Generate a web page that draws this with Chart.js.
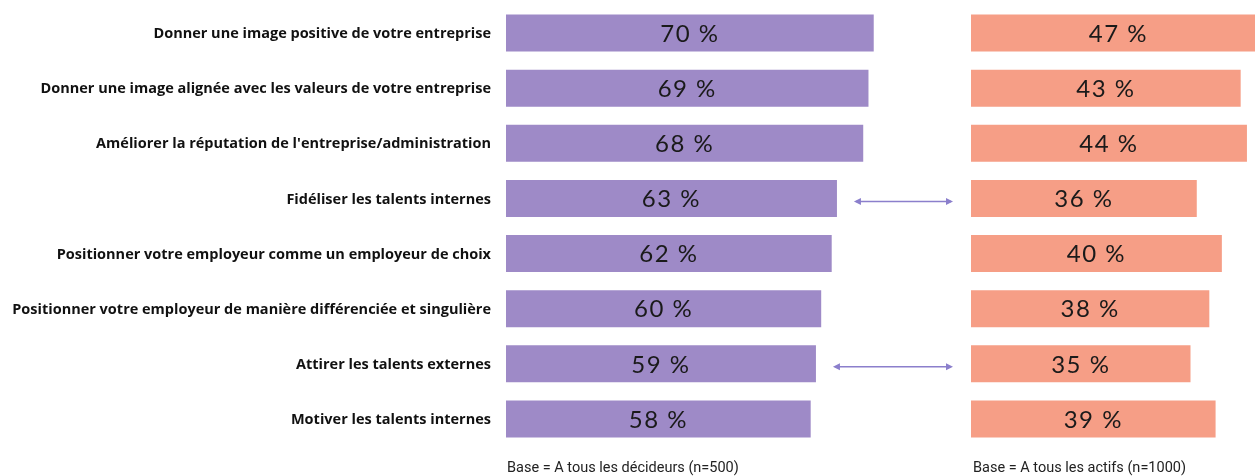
<!DOCTYPE html>
<html lang="fr">
<head>
<meta charset="utf-8">
<script src="https://cdn.jsdelivr.net/npm/chart.js@4.4.0/dist/chart.umd.min.js"></script>
<style>
  body { margin: 0; background: #fff; overflow: hidden; }
  #wrap { position: relative; width: 1255px; height: 476px; overflow: hidden; }
  #left { position: absolute; left: 0; top: 0; }
  #right { position: absolute; left: 971px; top: 0; }
  .base { position: absolute; top: 459px; font: 14.5px Roboto, sans-serif; color: #222; }
</style>
</head>
<body>
<div id="wrap">
  <canvas id="left" width="965" height="476"></canvas>
  <canvas id="right" width="328" height="476"></canvas>
  <div class="base" style="left:507px">Base = A tous les décideurs (n=500)</div>
  <div class="base" style="left:973px">Base = A tous les actifs (n=1000)</div>
</div>
<script>
// Statements
const categories = [
  'Donner une image positive de votre entreprise',
  'Donner une image alignée avec les valeurs de votre entreprise',
  "Améliorer la réputation de l'entreprise/administration",
  'Fidéliser les talents internes',
  'Positionner votre employeur comme un employeur de choix',
  'Positionner votre employeur de manière différenciée et singulière',
  'Attirer les talents externes',
  'Motiver les talents internes'
];
const decideurs = [70, 69, 68, 63, 62, 60, 59, 58];
const actifs = [47, 43, 44, 36, 40, 38, 35, 39];
// rows with a gap arrow between the two groups
const arrowRows = [3, 6];

const PURPLE = '#9e8ac7';
const ORANGE = '#f69e86';

// value label centred inside each bar
const barValues = {
  id: 'barValues',
  afterDatasetsDraw(chart) {
    const ctx = chart.ctx;
    const meta = chart.getDatasetMeta(0);
    ctx.save();
    ctx.font = '24px Lato, sans-serif';
    ctx.letterSpacing = '1.5px';
    ctx.fillStyle = '#1a1a1a';
    ctx.textAlign = 'center';
    ctx.textBaseline = 'middle';
    meta.data.forEach((bar, i) => {
      const v = chart.data.datasets[0].data[i];
      ctx.fillText(v + ' %', (bar.x + bar.base) / 2, bar.y + 1);
    });
    ctx.restore();
  }
};

// category labels, right aligned left of the bars
const rowLabels = {
  id: 'rowLabels',
  afterDraw(chart) {
    const ctx = chart.ctx;
    const y = chart.scales.y;
    ctx.save();
    ctx.font = 'bold 14.5px "Open Sans", sans-serif';
    ctx.fillStyle = '#111';
    ctx.textAlign = 'right';
    ctx.textBaseline = 'middle';
    chart.data.labels.forEach((lab, i) => {
      ctx.fillText(lab, chart.chartArea.left - 15, y.getPixelForValue(i) + 1);
    });
    ctx.restore();
  }
};

// double-headed arrows pointing at the other group
const gapArrows = {
  id: 'gapArrows',
  afterDraw(chart) {
    const ctx = chart.ctx;
    const meta = chart.getDatasetMeta(0);
    ctx.save();
    ctx.strokeStyle = '#8b7fcc';
    ctx.fillStyle = '#8b7fcc';
    ctx.lineWidth = 1.6;
    arrowRows.forEach(r => {
      const bar = meta.data[r];
      const y = bar.y + 3;
      const x1 = bar.x + 17;
      const x2 = chart.width - 12;
      ctx.beginPath();
      ctx.moveTo(x1 + 2, y);
      ctx.lineTo(x2 - 2, y);
      ctx.stroke();
      ctx.beginPath();
      ctx.moveTo(x1, y);
      ctx.lineTo(x1 + 7, y - 3.5);
      ctx.lineTo(x1 + 7, y + 3.5);
      ctx.closePath();
      ctx.fill();
      ctx.beginPath();
      ctx.moveTo(x2, y);
      ctx.lineTo(x2 - 7, y - 3.5);
      ctx.lineTo(x2 - 7, y + 3.5);
      ctx.closePath();
      ctx.fill();
    });
    ctx.restore();
  }
};

const common = {
  responsive: false,
  animation: false,
  indexAxis: 'y',
  plugins: { legend: { display: false }, tooltip: { enabled: false } }
};

new Chart(document.getElementById('left'), {
  type: 'bar',
  data: {
    labels: categories,
    datasets: [{
      data: decideurs,
      backgroundColor: PURPLE,
      barPercentage: 0.67,
      categoryPercentage: 1
    }]
  },
  options: {
    ...common,
    layout: { padding: { top: 5.5, bottom: 29.5, left: 506, right: 65 } },
    scales: {
      x: { display: false, min: 0, max: 75 },
      y: { display: false }
    }
  },
  plugins: [barValues, rowLabels, gapArrows]
});

new Chart(document.getElementById('right'), {
  type: 'bar',
  data: {
    labels: categories,
    datasets: [{
      data: actifs,
      backgroundColor: ORANGE,
      barPercentage: 0.67,
      categoryPercentage: 1
    }]
  },
  options: {
    ...common,
    layout: { padding: { top: 5.5, bottom: 29.5, left: 0, right: 0 } },
    scales: {
      x: { display: false, min: 0, max: 52.3 },
      y: { display: false }
    }
  },
  plugins: [barValues]
});
</script>
</body>
</html>
